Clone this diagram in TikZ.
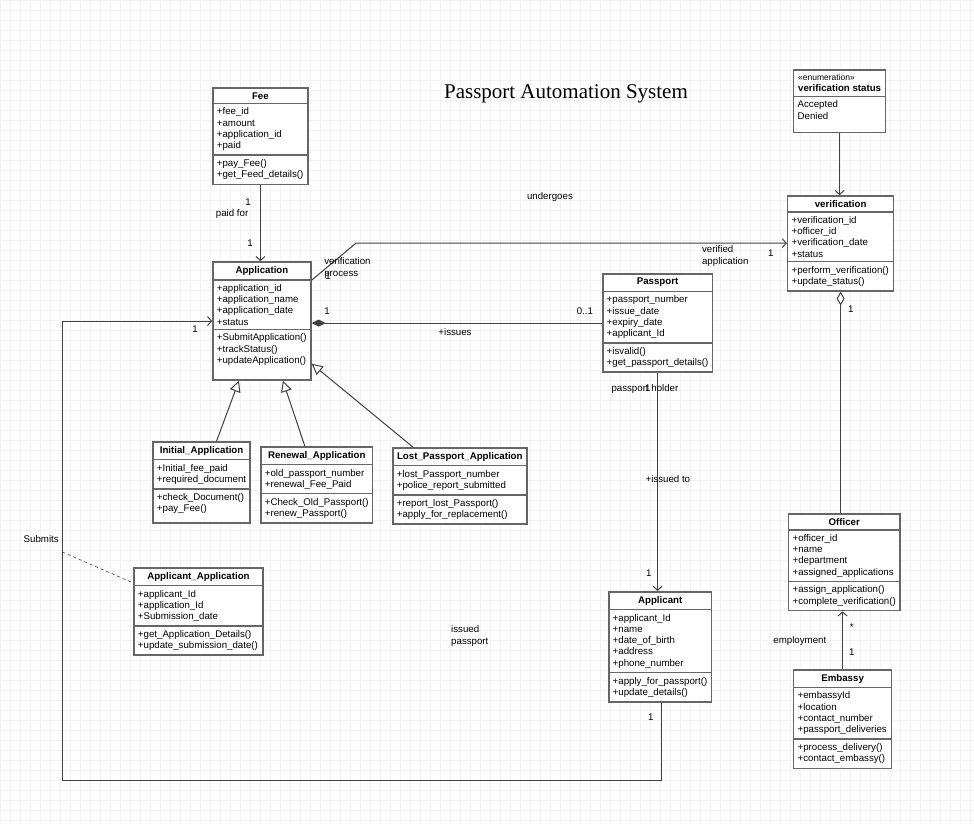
\documentclass[tikz,border=0pt]{standalone}
\usepackage{fontspec}
\setmainfont{Liberation Sans}
\newfontfamily\titlefont{Liberation Serif}
\usetikzlibrary{shapes.multipart,arrows.meta}
\newcommand\classfont{\fontsize{9.7}{11.3}\selectfont}
\newcommand\xdepth[1]{\rule[-#1]{0pt}{0pt}}

\tikzset{
  umlclass/.style={rectangle split, rectangle split parts=3, draw=black!60, line width=1.6pt,
    fill=white, anchor=north west, align=left, inner xsep=4pt, inner ysep=3.6pt,
    font=\classfont, rectangle split part align={center,left,left}},
  lbl/.style={font=\classfont, inner sep=0pt, align=left},
  assoc/.style={draw=black!75, line width=1pt},
  openarrow/.style={-{Straight Barb[length=4pt,width=9pt]}},
  genarrow/.style={-{Triangle[open,length=11pt,width=11pt,fill=white]}},
  comparrow/.style={{Diamond[length=14pt,width=7pt]}-},
  aggrarrow/.style={{Diamond[open,length=14pt,width=8pt,fill=white]}-}
}

\begin{document}
\begin{tikzpicture}[x=1pt,y=-1pt]
  \fill[white] (0,0) rectangle (974,823);
  \draw[step=10pt,gray!10,line width=0.5pt] (0,0) grid (974,823);
  \useasboundingbox (0,0) rectangle (974,823);

  \node (title) at (566,94) {\titlefont\fontsize{21}{24}\selectfont Passport Automation System};

  % classes
  \node[umlclass, minimum width=95pt] (fee) at (212,87)
    {\textbf{Fee}
     \nodepart{two}+fee\_id\\+amount\\+application\_id\\+paid
     \nodepart{three}+pay\_Fee()\\+get\_Feed\_details()};
  \node[umlclass, minimum width=98pt] (app) at (212,261)
    {\textbf{Application}
     \nodepart{two}+application\_id\\+application\_name\\+application\_date\\+status
     \nodepart{three}+SubmitApplication()\\+trackStatus()\\+updateApplication()\xdepth{12pt}};
  \node[umlclass, minimum width=109pt] (passport) at (602,273)
    {\textbf{Passport}
     \nodepart{two}+passport\_number\\+issue\_date\\+expiry\_date\\+applicant\_Id
     \nodepart{three}+isvalid()\\+get\_passport\_details()};
  \node[umlclass, rectangle split parts=2, minimum width=92pt] (enum) at (793,69)
    {{\fontsize{8.5}{9.5}\selectfont «enumeration»}\\\textbf{verification status}
     \nodepart{two}Accepted\\Denied\xdepth{9pt}};
  \node[umlclass, minimum width=106pt] (verif) at (787,195)
    {\textbf{verification}
     \nodepart{two}+verification\_id\\+officer\_id\\+verification\_date\\+status
     \nodepart{three}+perform\_verification()\\+update\_status()};
  \node[umlclass, minimum width=97pt] (initial) at (152,441)
    {\textbf{Initial\_Application}
     \nodepart{two}+Initial\_fee\_paid\\+required\_document
     \nodepart{three}+check\_Document()\\+pay\_Fee()\xdepth{7pt}};
  \node[umlclass, minimum width=111pt] (renewal) at (260,446)
    {\textbf{Renewal\_Application}
     \nodepart{two}+old\_passport\_number\\+renewal\_Fee\_Paid
     \nodepart{three}+Check\_Old\_Passport()\\+renew\_Passport()};
  \node[umlclass, minimum width=134pt] (lost) at (392,447)
    {\textbf{Lost\_Passport\_Application}
     \nodepart{two}+lost\_Passport\_number\\+police\_report\_submitted
     \nodepart{three}+report\_lost\_Passport()\\+apply\_for\_replacement()};
  \node[umlclass, minimum width=129pt] (appapp) at (133,567)
    {\textbf{Applicant\_Application}
     \nodepart{two}+applicant\_Id\\+application\_Id\\+Submission\_date
     \nodepart{three}+get\_Application\_Details()\\+update\_submission\_date()};
  \node[umlclass, minimum width=103pt] (applicant) at (608,591)
    {\textbf{Applicant}
     \nodepart{two}+applicant\_Id\\+name\\+date\_of\_birth\\+address\\+phone\_number
     \nodepart{three}+apply\_for\_passport()\\+update\_details()};
  \node[umlclass, minimum width=111pt] (officer) at (788,513)
    {\textbf{Officer}
     \nodepart{two}+officer\_id\\+name\\+department\\+assigned\_applications
     \nodepart{three}+assign\_application()\\+complete\_verification()};
  \node[umlclass, minimum width=98pt] (embassy) at (793,669)
    {\textbf{Embassy}
     \nodepart{two}+embassyId\\+location\\+contact\_number\\+passport\_deliveries
     \nodepart{three}+process\_delivery()\\+contact\_embassy()};

  % bend points
  \coordinate (vbend) at (356,243);
  \coordinate (loopA) at (662,781);
  \coordinate (loopB) at (62,781);
  \coordinate (loopC) at (62,321);
  \coordinate (subpt) at (62,552);

  % connectors
  \draw[assoc, openarrow] (fee.south) -- (fee.south |- app.north);
  \draw[assoc, openarrow] ([yshift=-19pt]app.north east) -- (vbend) -- (vbend -| verif.west);
  \draw[assoc, comparrow] (passport.west -| app.east) -- (passport.west);
  \draw[assoc, genarrow] ([xshift=15pt]initial.north) -- ([xshift=-23pt]app.south);
  \draw[assoc, genarrow] ([xshift=-12pt]renewal.north) -- ([xshift=21pt]app.south);
  \draw[assoc, genarrow] ([xshift=-47pt]lost.north) -- ([yshift=17pt]app.south east);
  \draw[assoc, openarrow] (enum.south) -- (enum.south |- verif.north);
  \draw[assoc, aggrarrow] (verif.south) -- (verif.south |- officer.north);
  \draw[assoc, openarrow] (passport.south) -- (passport.south |- applicant.north);
  \draw[assoc, openarrow] (embassy.north) -- (embassy.north |- officer.south);
  \draw[assoc, openarrow] (applicant.south -| loopA) -- (loopA) -- (loopB) -- (loopC) -- (loopC -| app.west);
  \draw[assoc, dashed, line width=0.6pt] (subpt) -- ([yshift=-16pt]appapp.north west);

  % labels
  \node[lbl] (l1) at (248,202) {1};
  \node[lbl] (l2) at (232,214) {paid for};
  \node[lbl] (l3) at (250,243) {1};
  \node[lbl, anchor=west] (l4) at (324,268) {verification\\process};
  \node[lbl] (l5) at (328,276) {1};
  \node[lbl] (l6) at (550,197) {undergoes};
  \node[lbl, anchor=west] (l7) at (702,256) {verified\\application};
  \node[lbl] (l8) at (771,253) {1};
  \node[lbl] (l9) at (327,311) {1};
  \node[lbl] (l10) at (585,311) {0..1};
  \node[lbl] (l11) at (455,332) {+issues};
  \node[lbl] (l12) at (645,389) {passport holder};
  \node[lbl] (l13) at (648,388) {1};
  \node[lbl] (l14) at (668,479) {+issued to};
  \node[lbl] (l15) at (649,573) {1};
  \node[lbl] (l16) at (851,309) {1};
  \node[lbl] (l17) at (852,627) {*};
  \node[lbl] (l18) at (800,641) {employment};
  \node[lbl] (l19) at (852,652) {1};
  \node[lbl] (l20) at (651,717) {1};
  \node[lbl, anchor=west] (l21) at (451,636) {issued\\passport};
  \node[lbl] (l22) at (195,329) {1};
  \node[lbl] (l23) at (41,539) {Submits};
\end{tikzpicture}
\end{document}
